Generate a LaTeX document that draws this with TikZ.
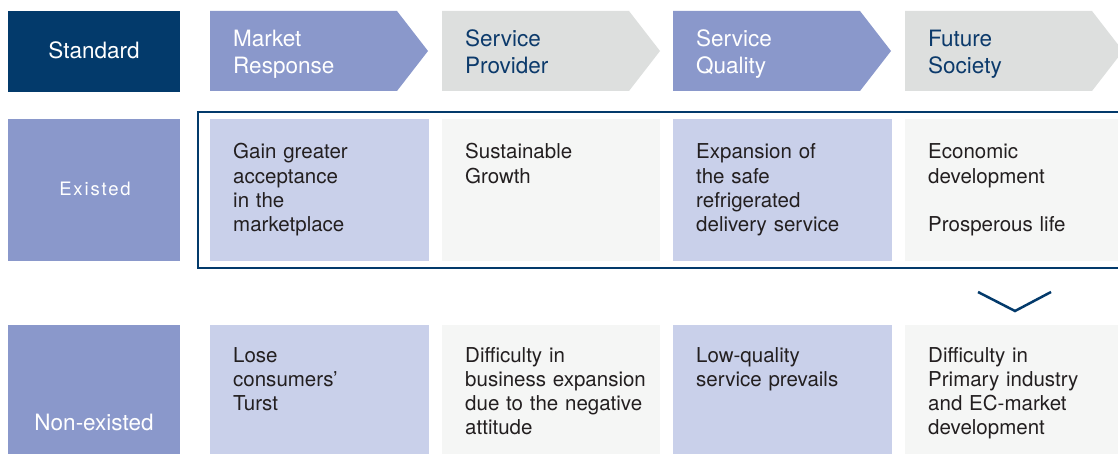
\documentclass[tikz,border=0pt]{standalone}
\usepackage{fontspec}
\setmainfont{TeX Gyre Heros}
\newfontfamily\widefont[LetterSpace=10]{TeX Gyre Heros}
\definecolor{navy}{HTML}{033A6B}
\definecolor{navytext}{HTML}{0C3A6B}
\definecolor{purp}{HTML}{8A98CB}
\definecolor{lpurp}{HTML}{C9D0EA}
\definecolor{greych}{HTML}{DDDFDE}
\definecolor{lgrey}{HTML}{F5F6F5}
\definecolor{celltxt}{HTML}{231F20}
\begin{document}
\begin{tikzpicture}[x=1pt,y=-1pt,
  labelbox/.style={rectangle, inner sep=0pt, outer sep=0pt, anchor=north west, minimum width=172pt, text=white},
  cellbox/.style={rectangle, inner sep=0pt, outer sep=0pt, anchor=north west},
  titletext/.style={inner sep=0pt, anchor=base west, text width=180pt, align=left, font=\fontsize{22.5}{26.7}\selectfont},
  celltext/.style={inner sep=0pt, anchor=base west, text width=190pt, align=left, text=celltxt, font=\fontsize{20.5}{24.3}\selectfont},
  frame/.style={draw=navy, line width=2pt},
  vmark/.style={draw=navy, line width=2.5pt}
]
\useasboundingbox (0,0) rectangle (1118,454);
\clip (0,0) rectangle (1118,454);

% ---- header row ----
\node[labelbox, fill=navy, minimum height=81pt] (std) at (8,11) {};
\node[inner sep=0pt, anchor=base, text=white, font=\fontsize{22.5}{27}\selectfont] (stdT) at (94,58.3) {Standard};

\fill[purp]   (210,11) -- (397,11) -- (428,51) -- (397,91) -- (210,91) -- cycle;
\fill[greych] (442,11) -- (629,11) -- (660,51) -- (629,91) -- (442,91) -- cycle;
\fill[purp]   (673,11) -- (860,11) -- (891,51) -- (860,91) -- (673,91) -- cycle;
\fill[greych] (905,11) -- (1092,11) -- (1123,51) -- (1092,91) -- (905,91) -- cycle;

\node[titletext, text=white]    (h1) at (233,46.7) {Market\\Response};
\node[titletext, text=navytext] (h2) at (465,46.7) {Service\\Provider};
\node[titletext, text=white]    (h3) at (696,46.7) {Service\\Quality};
\node[titletext, text=navytext] (h4) at (928,46.7) {Future\\Society};

% ---- existed row ----
\node[labelbox, fill=purp, minimum height=142pt] (ex) at (8,119) {};
\node[inner sep=0pt, anchor=base, text=white, font=\widefont\fontsize{18.5}{22}\selectfont] (exT) at (95,195.5) {Existed};

\draw[frame] (198,112) rectangle (1135,268);

\node[cellbox, fill=lpurp, minimum width=219pt, minimum height=142pt] (e1) at (210,119) {};
\node[cellbox, fill=lgrey, minimum width=218pt, minimum height=142pt] (e2) at (442,119) {};
\node[cellbox, fill=lpurp, minimum width=219pt, minimum height=142pt] (e3) at (673,119) {};
\node[cellbox, fill=lgrey, minimum width=230pt, minimum height=142pt] (e4) at (905,119) {};

\node[celltext] (te1) at (233,159) {Gain greater\\acceptance\\in the\\marketplace};
\node[celltext] (te2) at (465,159) {Sustainable\\Growth};
\node[celltext] (te3) at (696,159) {Expansion of\\the safe\\refrigerated\\delivery service};
\node[celltext] (te4) at (928,159) {Economic\\development\\[24.3pt]Prosperous life};

% ---- down chevron ----
\coordinate (vl) at (978,292);
\coordinate (vb) at (1015,311);
\coordinate (vr) at (1051,292);
\draw[vmark] (vl) -- (vb) -- (vr);

% ---- non-existed row ----
\node[labelbox, fill=purp, minimum height=140pt] (nex) at (8,325) {};
\node[inner sep=0pt, anchor=base, text=white, font=\fontsize{22.5}{27}\selectfont] (nexT) at (94,430) {Non-existed};

\node[cellbox, fill=lpurp, minimum width=219pt, minimum height=140pt] (n1) at (210,325) {};
\node[cellbox, fill=lgrey, minimum width=218pt, minimum height=140pt] (n2) at (442,325) {};
\node[cellbox, fill=lpurp, minimum width=219pt, minimum height=140pt] (n3) at (673,325) {};
\node[cellbox, fill=lgrey, minimum width=230pt, minimum height=140pt] (n4) at (905,325) {};

\node[celltext] (tn1) at (233,362) {Lose\\consumers’\\Turst};
\node[celltext] (tn2) at (465,362) {Difficulty in\\business expansion\\due to the negative\\attitude};
\node[celltext] (tn3) at (696,362) {Low-quality\\service prevails};
\node[celltext] (tn4) at (928,362) {Difficulty in\\Primary industry\\and EC-market\\development};
\end{tikzpicture}
\end{document}
